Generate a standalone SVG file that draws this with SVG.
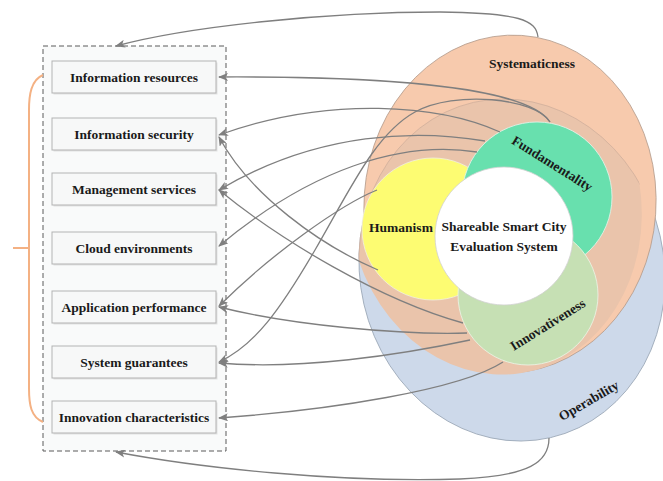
<svg xmlns="http://www.w3.org/2000/svg" width="663" height="481" viewBox="0 0 663 481">
  <style>
    .lbl { font-family: "Liberation Serif", "Times New Roman", serif; font-weight: bold; font-size: 13.5px; fill: #1a1a1a; text-anchor: middle; }
    .box { fill: #f7f8f8; stroke: #b3b3b3; stroke-width: 1; }
    .shadow { fill: #e2e2e2; }
    .conn { fill: none; stroke: #7f7f7f; stroke-width: 1.3; marker-end: url(#arrow); }
  </style>
  <defs>
    <marker id="arrow" viewBox="0 0 10 8" refX="9" refY="4" markerWidth="10" markerHeight="8" markerUnits="userSpaceOnUse" orient="auto">
      <path d="M0,0 L10,4 L0,8 L2.5,4 z" fill="#7f7f7f"/>
    </marker>
    <clipPath id="sysClip">
      <ellipse cx="510" cy="204" rx="146" ry="169" transform="rotate(4 510 204)"/>
    </clipPath>
  </defs>

  <rect width="663" height="481" fill="#ffffff"/>

  <!-- indicator panel -->
  <g id="panel">
    <rect x="43" y="46" width="183" height="405" fill="#f9fafa" stroke="#5a5a5a" stroke-width="1" stroke-dasharray="5,3"/>
    <path d="M43,75 C31,80 29,95 29,110 L29,388 C29,405 31,417 43,422 M13,248 L29,248" fill="none" stroke="#f4b183" stroke-width="2"/>
  </g>

  <g id="box-resources">
    <rect class="shadow" x="53.5" y="62.5" width="164" height="32"/>
    <rect class="box" x="52" y="61" width="164" height="32"/>
    <text class="lbl" x="134" y="81.5">Information resources</text>
  </g>
  <g id="box-security">
    <rect class="shadow" x="53.5" y="119.5" width="164" height="32"/>
    <rect class="box" x="52" y="118" width="164" height="32"/>
    <text class="lbl" x="134" y="138.5">Information security</text>
  </g>
  <g id="box-management">
    <rect class="shadow" x="53.5" y="174.5" width="164" height="32"/>
    <rect class="box" x="52" y="173" width="164" height="32"/>
    <text class="lbl" x="134" y="193.5">Management services</text>
  </g>
  <g id="box-cloud">
    <rect class="shadow" x="53.5" y="233.5" width="164" height="32"/>
    <rect class="box" x="52" y="232" width="164" height="32"/>
    <text class="lbl" x="134" y="252.5">Cloud environments</text>
  </g>
  <g id="box-application">
    <rect class="shadow" x="53.5" y="292.5" width="164" height="32"/>
    <rect class="box" x="52" y="291" width="164" height="32"/>
    <text class="lbl" x="134" y="311.5">Application performance</text>
  </g>
  <g id="box-guarantees">
    <rect class="shadow" x="53.5" y="347.5" width="164" height="32"/>
    <rect class="box" x="52" y="346" width="164" height="32"/>
    <text class="lbl" x="134" y="366.5">System guarantees</text>
  </g>
  <g id="box-innovation">
    <rect class="shadow" x="53.5" y="402.5" width="164" height="32"/>
    <rect class="box" x="52" y="401" width="164" height="32"/>
    <text class="lbl" x="134" y="421.5">Innovation characteristics</text>
  </g>

  <!-- evaluation dimensions -->
  <g id="operability">
    <ellipse cx="512" cy="270" rx="152" ry="172" transform="rotate(-13 512 270)" fill="#cdd9ea" stroke="#9aa6b5" stroke-width="0.8"/>
  </g>
  <g id="systematicness">
    <ellipse cx="510" cy="204" rx="146" ry="169" transform="rotate(4 510 204)" fill="#f7caad" stroke="#b39a8a" stroke-width="0.8"/>
    <ellipse cx="512" cy="270" rx="152" ry="172" transform="rotate(-13 512 270)" fill="#eac4ab" stroke="#d2b19d" stroke-width="0.8" clip-path="url(#sysClip)"/>
    <text class="lbl" x="532" y="68" font-size="14">Systematicness</text>
  </g>
  <g id="humanism">
    <circle cx="433" cy="229" r="71" fill="#fdfc72" stroke="#f0f0e0" stroke-width="0.8"/>
    <text class="lbl" x="401" y="232">Humanism</text>
  </g>
  <g id="fundamentality">
    <circle cx="537" cy="197" r="75" fill="#68e0ae" stroke="#e6f5ee" stroke-width="0.8"/>
    <text class="lbl" transform="translate(552 164) rotate(32)" y="4">Fundamentality</text>
  </g>
  <g id="innovativeness">
    <circle cx="528" cy="295" r="70" fill="#c6e0b4" stroke="#eef5e8" stroke-width="0.8"/>
    <text class="lbl" transform="translate(548 325) rotate(-32)" y="4">Innovativeness</text>
  </g>
  <g id="operability-label">
    <text class="lbl" transform="translate(589 401) rotate(-30)" y="4">Operability</text>
  </g>
  <g id="core">
    <circle cx="504" cy="236" r="69" fill="#ffffff" stroke="#d0d0d0" stroke-width="0.8"/>
    <text class="lbl" x="504" y="231">Shareable Smart City</text>
    <text class="lbl" x="504" y="251">Evaluation System</text>
  </g>

  <!-- connectors -->
  <g id="connectors">
    <path class="conn" d="M538,37 C536,20 520,13 440,12 C330,12 190,26 116,46"/>
    <path class="conn" d="M549,438 C549,462 530,476 460,479 C340,483 200,468 116,452"/>
    <path class="conn" d="M550,122 C530,92 420,76 219,77"/>
    <path class="conn" d="M500,132 C440,105 330,95 219,135"/>
    <path class="conn" d="M485,141 C420,130 320,130 219,190"/>
    <path class="conn" d="M477,152 C400,140 310,170 219,246"/>
    <path class="conn" d="M377,190 C340,205 270,255 219,306"/>
    <path class="conn" d="M550,122 C535,98 455,90 415,112 S350,190 315,250 S255,345 219,362"/>
    <path class="conn" d="M378,270 C320,245 250,195 219,137"/>
    <path class="conn" d="M463,323 C380,300 280,240 219,190"/>
    <path class="conn" d="M467,333 C400,335 290,325 219,307"/>
    <path class="conn" d="M470,340 C400,355 300,370 219,363"/>
    <path class="conn" d="M503,362 C460,390 330,410 219,418"/>
  </g>
</svg>
